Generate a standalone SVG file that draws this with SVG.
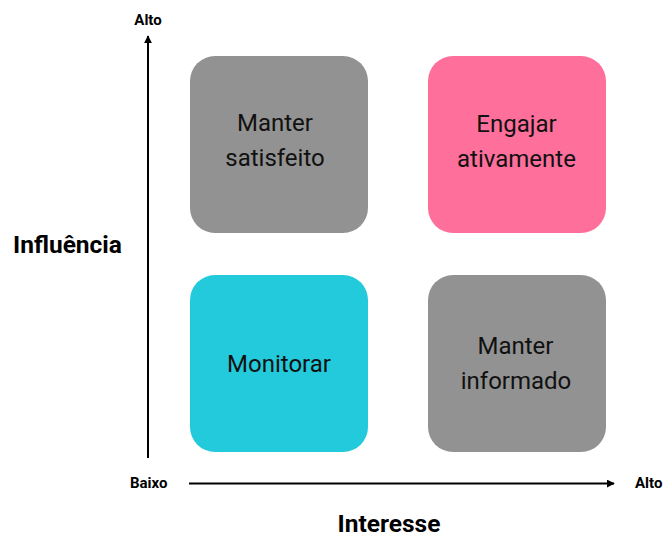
<svg xmlns="http://www.w3.org/2000/svg" width="664" height="539" viewBox="0 0 664 539">
<style>
.box{stroke:none}
.lbl{font-family:Roboto,"Liberation Sans",sans-serif;font-size:24px;fill:#111;text-anchor:middle}
.ax{font-family:Roboto,"Liberation Sans",sans-serif;font-weight:bold;font-size:15px;fill:#000}
.title{font-family:Roboto,"Liberation Sans",sans-serif;font-weight:bold;font-size:24.5px;fill:#000}
.axis{stroke:#000;stroke-width:2;fill:none}
</style>
<defs>
<marker id="arr" viewBox="0 0 10 10" refX="9" refY="5" markerWidth="4" markerHeight="4" orient="auto" markerUnits="strokeWidth">
<path d="M0,0 L10,5 L0,10 z" fill="#000"/>
</marker>
</defs>
<rect width="664" height="539" fill="#fff"/>
<g id="connectors">
<line class="axis" x1="148" y1="458" x2="148" y2="36" marker-end="url(#arr)"/>
<line class="axis" x1="189" y1="483.5" x2="614" y2="483.5" marker-end="url(#arr)"/>
</g>
<g id="node-manter-satisfeito">
<rect class="box" x="190" y="56" width="178" height="177" rx="25" fill="#929292"/>
<text class="lbl" x="275" y="131">Manter</text>
<text class="lbl" x="275" y="166">satisfeito</text>
</g>
<g id="node-engajar-ativamente">
<rect class="box" x="428" y="56" width="178" height="177" rx="25" fill="#ff6f9b"/>
<text class="lbl" x="516.5" y="131.5">Engajar</text>
<text class="lbl" x="516.5" y="167">ativamente</text>
</g>
<g id="node-monitorar">
<rect class="box" x="190" y="275" width="178" height="177" rx="25" fill="#22cadb"/>
<text class="lbl" x="279" y="372">Monitorar</text>
</g>
<g id="node-manter-informado">
<rect class="box" x="428" y="275" width="178" height="177" rx="25" fill="#929292"/>
<text class="lbl" x="515.5" y="354">Manter</text>
<text class="lbl" x="516" y="389">informado</text>
</g>
<g id="labels">
<text class="ax" x="148" y="25" text-anchor="middle">Alto</text>
<text class="ax" x="130" y="488">Baixo</text>
<text class="ax" x="635" y="488">Alto</text>
<text class="title" x="13" y="253">Influência</text>
<text class="title" x="389" y="532" text-anchor="middle">Interesse</text>
</g>
</svg>
